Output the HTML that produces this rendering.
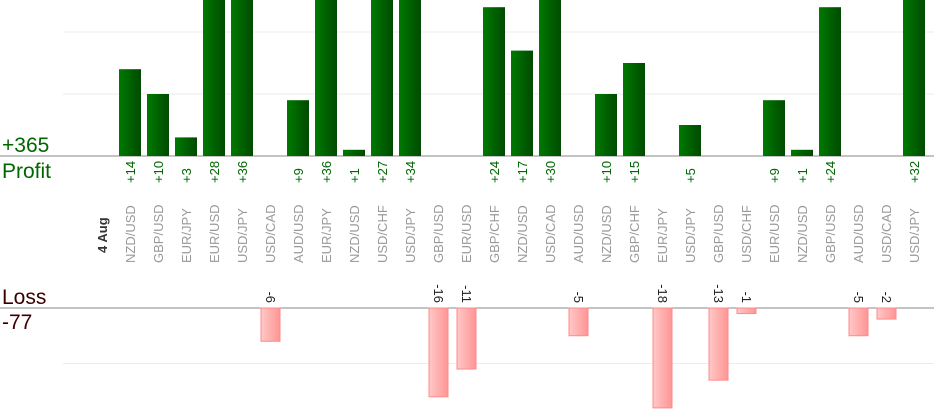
<!DOCTYPE html>
<html><head><meta charset="utf-8"><style>
html,body{margin:0;padding:0;background:#fff;}
svg{display:block;font-family:"Liberation Sans",sans-serif;}
</style></head><body>
<svg id="chart" width="934" height="420" viewBox="0 0 934 420">
<defs>
<linearGradient id="gp" x1="0" x2="1" y1="0" y2="0"><stop offset="0" stop-color="#007a00"/><stop offset="1" stop-color="#004a00"/></linearGradient>
<linearGradient id="gl" x1="0" x2="1" y1="0" y2="0"><stop offset="0" stop-color="#ffc8c8"/><stop offset="1" stop-color="#ff9494"/></linearGradient>
</defs>
<g id="grid"></g>
<g id="bars"></g>
<g id="labels"></g>
<text x="2" y="152" font-size="21" fill="#006600">+365</text>
<text x="2" y="178" font-size="21" fill="#006600">Profit</text>
<text x="2" y="304" font-size="21" fill="#3a0000">Loss</text>
<text x="2" y="329" font-size="21" fill="#3a0000">-77</text>
</svg>
<script>
const pairs=["NZD/USD","GBP/USD","EUR/JPY","EUR/USD","USD/JPY","USD/CAD","AUD/USD","EUR/JPY","NZD/USD","USD/CHF","USD/JPY","GBP/USD","EUR/USD","GBP/CHF","NZD/USD","USD/CAD","AUD/USD","NZD/USD","GBP/CHF","EUR/JPY","USD/JPY","GBP/USD","USD/CHF","EUR/USD","NZD/USD","GBP/USD","AUD/USD","USD/CAD","USD/JPY"];
const results=[14,10,3,28,36,-6,9,36,1,27,34,-16,-11,24,17,30,-5,10,15,-18,5,-13,-1,9,1,24,-5,-2,32];
const dateLabel="4 Aug";
const gridProfit=[10,20];
const gridLoss=[10];
const NS="http://www.w3.org/2000/svg";
const x0=130, step=28, pBase=156, lBase=308, pScale=6.2, lScale=5.55;
const xc=i=>x0+i*step;
const yP=v=>pBase-v*pScale;
const yL=v=>lBase+v*lScale;
function mk(t,a,p){const e=document.createElementNS(NS,t);for(const k in a)e.setAttribute(k,a[k]);document.getElementById(p).appendChild(e);return e;}
gridProfit.forEach(g=>{const e=mk('line',{x1:63,x2:934,y1:yP(g),y2:yP(g),stroke:'#ebebeb'},'grid');

});
gridLoss.forEach(g=>{const e=mk('line',{x1:63,x2:934,y1:yL(g),y2:yL(g),stroke:'#ebebeb'},'grid');

});
let e=mk('line',{x1:0,x2:934,y1:pBase,y2:pBase,stroke:'#888'},'grid');


e=mk('line',{x1:0,x2:934,y1:lBase,y2:lBase,stroke:'#888'},'grid');


e=mk('text',{transform:`translate(${x0-23},253) rotate(-90)`,'font-size':13,'font-weight':'bold',fill:'#333'},'labels');
e.textContent=dateLabel;


results.forEach((v,i)=>{
  const x=xc(i);
  if(v>0){
    const b=mk('rect',{x:x-11,y:yP(v),width:22,height:v*pScale,fill:'url(#gp)'},'bars');
    
    
    const t=mk('text',{transform:`translate(${x+5},183) rotate(-90)`,'font-size':13,fill:'#006600'},'labels');
    t.textContent='+'+v;
    
    
  } else {
    const b=mk('rect',{x:x-9,y:lBase,width:19,height:-v*lScale,fill:'url(#gl)',stroke:'#ff8a8a','stroke-width':1},'bars');
    
    
    const t=mk('text',{transform:`translate(${x-4},303) rotate(90)`,'font-size':13,fill:'#222','text-anchor':'end'},'labels');
    t.textContent=String(v);
    
    
  }
  const p=mk('text',{transform:`translate(${x+5},263) rotate(-90)`,'font-size':13,fill:'#999'},'labels');
  p.textContent=pairs[i];
  
  
});
</script>
</body></html>
